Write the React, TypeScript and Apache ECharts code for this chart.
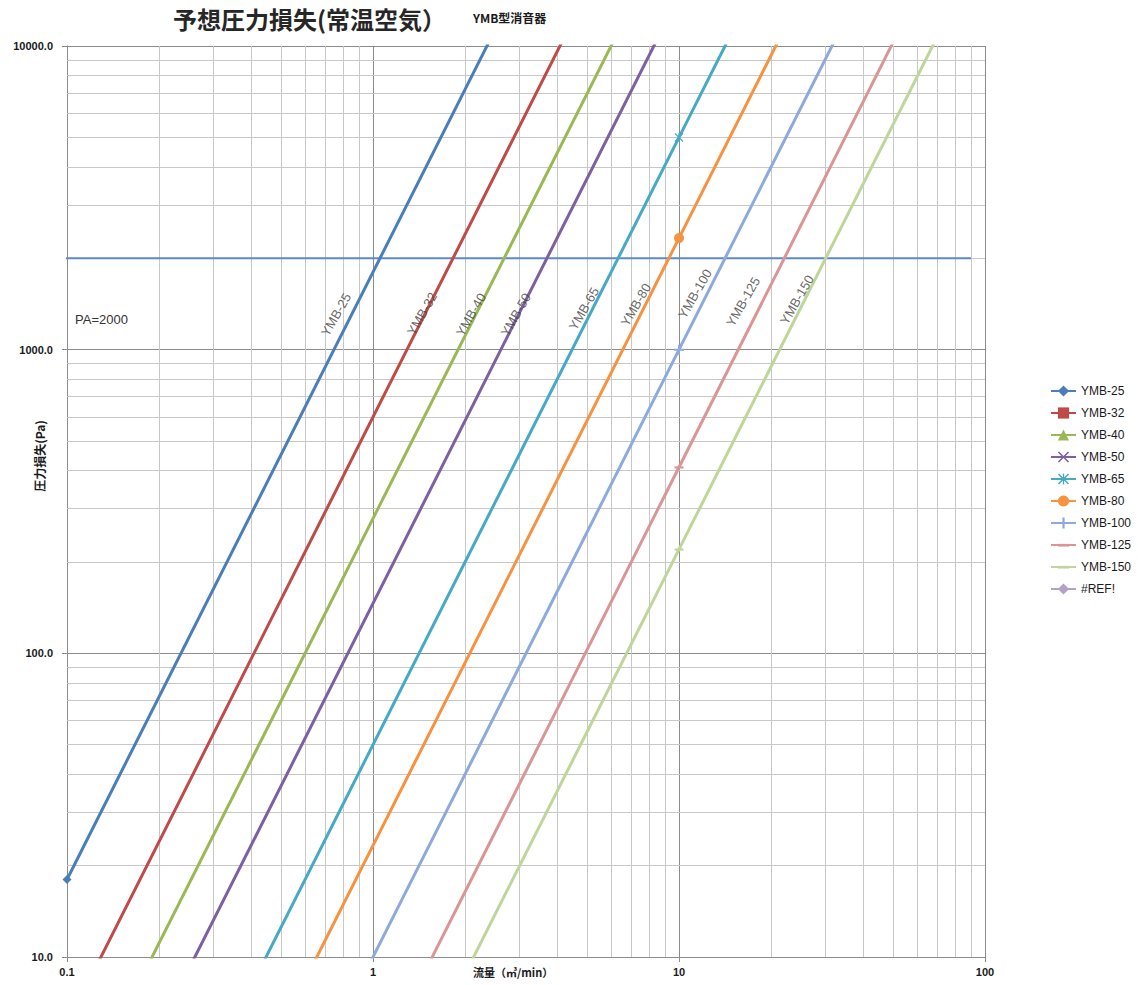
import React, { useEffect, useRef } from 'react';
import * as echarts from 'echarts';

const seriesNames = ['YMB-25', 'YMB-32', 'YMB-40', 'YMB-50', 'YMB-65', 'YMB-80', 'YMB-100', 'YMB-125', 'YMB-150', '#REF!'];
const flowPoints = [0.1, 10, 100];
const ymb25 = [18, 180000, 18000000];
const ymb32 = [6, 60000, 6000000];
const ymb40 = [2.78, 27800, 2780000];
const ymb50 = [1.46, 14600, 1460000];
const ymb65 = [0.5, 5000, 500000];
const ymb80 = [0.233, 2330, 233000];
const ymb100 = [0.1, 1000, 100000];
const ymb125 = [0.041, 410, 41000];
const ymb150 = [0.022, 220, 22000];
const refValues: number[] = [];
const seriesValues = [ymb25, ymb32, ymb40, ymb50, ymb65, ymb80, ymb100, ymb125, ymb150, refValues];

const colors = ['#4A7EBB', '#BE4B48', '#98B954', '#7D60A0', '#46AAC5', '#F69240', '#8EAADB', '#D99694', '#BFD59A', '#B3A2C7'];

const labelFlows = [0.757, 1.446, 2.09, 2.93, 4.89, 7.23, 11.28, 16.2, 24.3];
const labelPressures = [1304, 1313, 1304, 1304, 1364, 1406, 1528, 1438, 1460];

const paLevel = 2000;
const paLineFlows = [0.0893, 90];

const xMinor = [0.2, 0.3, 0.4, 0.5, 0.6, 0.7, 0.8, 0.9, 2, 3, 4, 5, 6, 7, 8, 9, 20, 30, 40, 50, 60, 70, 80, 90];
const yMinor = [20, 30, 40, 50, 60, 70, 80, 90, 200, 300, 400, 500, 600, 700, 800, 900, 2000, 3000, 4000, 5000, 6000, 7000, 8000, 9000];
const xTickLabels = ['0.1', '1', '10', '100'];
const yTickLabels = ['10.0', '100.0', '1000.0', '10000.0'];

const xPlus = 'path://M4,0H6V4H10V6H6V10H4V6H0V4H4Z';
const xCross = 'path://M1,0L5,4L9,0L10,1L6,5L10,9L9,10L5,6L1,10L0,9L4,5L0,1Z';
const xStar = 'path://M1,0L5,4L9,0L10,1L6,5L10,9L9,10L5,6L1,10L0,9L4,5L0,1Z M4.4,0H5.6V10H4.4Z';
const xDash = 'path://M0,0L0,0M10,10L10,10M0,4H10V6.4H0Z';
const symbols = ['diamond', 'rect', 'triangle', xCross, xStar, 'circle', xPlus, xDash, xDash, 'diamond'];
const symbolSizes: any[] = [9, 8, 9, 9, 9, 10, 10, 9, 9, 9];

const FONT = "'Liberation Sans', 'Noto Sans CJK JP', sans-serif";
const CJK = "'Noto Sans CJK JP', 'Liberation Sans', sans-serif";

export default function App() {
  const ref = useRef<HTMLDivElement>(null);
  useEffect(() => {
    document.body.style.margin = '0';
    if (!ref.current) return;
    const chart = echarts.init(ref.current, null, { renderer: 'svg' });
    const dataSeries = seriesNames.map((name, i) => ({
      name,
      type: 'line',
      data: seriesValues[i].map((p, j) => [flowPoints[j], p]),
      symbol: symbols[i],
      symbolSize: symbolSizes[i],
      showAllSymbol: true,
      clip: true,
      lineStyle: { width: 3, color: colors[i] },
      itemStyle: { color: colors[i] },
      z: 3,
    }));
    const option: any = {
      animation: false,
      backgroundColor: '#ffffff',
      title: {
        text: '予想圧力損失(常温空気）',
        left: 173,
        top: 6,
        padding: 0,
        textStyle: { fontSize: 24, fontWeight: 'bold', color: '#262626', fontFamily: CJK },
      },
      grid: { left: 67, right: 153, top: 46, bottom: 28, containLabel: false },
      legend: {
        data: seriesNames,
        orient: 'vertical',
        left: 1050,
        top: 385,
        padding: 0,
        itemWidth: 25,
        itemHeight: 14,
        itemGap: 10,
        textStyle: { fontSize: 12, color: '#1a1a1a', fontFamily: FONT },
      },
      xAxis: {
        type: 'log',
        logBase: 10,
        min: 0.1,
        max: 100,
        splitNumber: 3,
        axisLine: { show: true, lineStyle: { color: '#8c8c8c', width: 1 } },
        axisTick: { show: true, length: 5, lineStyle: { color: '#8c8c8c' } },
        axisLabel: {
          margin: 9,
          fontSize: 11,
          fontWeight: 'bold',
          color: '#1a1a1a',
          fontFamily: FONT,
          formatter: (_v: number, idx: number) => xTickLabels[idx] ?? '',
        },
        splitLine: { show: true, lineStyle: { color: '#8c8c8c', width: 1 } },
      },
      yAxis: {
        type: 'log',
        logBase: 10,
        min: 10,
        max: 10000,
        splitNumber: 3,
        axisLine: { show: true, lineStyle: { color: '#8c8c8c', width: 1 } },
        axisTick: { show: true, length: 5, lineStyle: { color: '#8c8c8c' } },
        axisLabel: {
          margin: 14,
          fontSize: 11,
          fontWeight: 'bold',
          color: '#1a1a1a',
          fontFamily: FONT,
          formatter: (_v: number, idx: number) => yTickLabels[idx] ?? '',
        },
        splitLine: { show: true, lineStyle: { color: '#8c8c8c', width: 1 } },
      },
      graphic: [
        {
          type: 'text',
          left: 473,
          top: 11,
          style: { text: 'YMB型消音器', fill: '#1a1a1a', font: `bold 12px ${CJK}` },
        },
        {
          type: 'text',
          left: 75,
          top: 313,
          style: { text: 'PA=2000', fill: '#333333', font: `13px ${FONT}` },
        },
        {
          type: 'text',
          left: 473,
          top: 966,
          style: { text: '流量（㎥/min）', fill: '#1a1a1a', font: `bold 11px ${CJK}` },
        },
        {
          type: 'text',
          x: 39,
          y: 456,
          rotation: Math.PI / 2,
          style: {
            text: '圧力損失(Pa)',
            fill: '#1a1a1a',
            font: `bold 12px ${CJK}`,
            textAlign: 'center',
            textVerticalAlign: 'middle',
          },
        },
      ],
      series: [
        {
          name: 'minorGrid',
          type: 'line',
          data: [],
          z: 1,
          silent: true,
          markLine: {
            silent: true,
            z: 1,
            symbol: ['none', 'none'],
            label: { show: false },
            lineStyle: { color: '#c8c8c8', width: 1, type: 'solid' },
            emphasis: { disabled: true },
            data: [
              ...xMinor.map((v) => ({ xAxis: v })),
              ...yMinor.map((v) => ({ yAxis: v })),
            ],
          },
        },
        {
          name: 'PA',
          type: 'line',
          data: paLineFlows.map((q) => [q, paLevel]),
          clip: false,
          symbol: 'none',
          silent: true,
          lineStyle: { color: '#5B8AC8', width: 2 },
          z: 2,
        },
        ...dataSeries,
        {
          name: 'lineLabels',
          type: 'scatter',
          silent: true,
          data: labelFlows.map((q, i) => ({ value: [q, labelPressures[i]], name: seriesNames[i] })),
          symbolSize: 1,
          itemStyle: { color: 'rgba(0,0,0,0)' },
          label: {
            show: true,
            position: 'inside',
            formatter: '{b}',
            rotate: 60,
            fontSize: 13,
            color: '#404040',
            fontFamily: FONT,
          },
          z: 5,
        },
      ],
    };
    chart.setOption(option);
    return () => chart.dispose();
  }, []);
  return <div ref={ref} style={{ width: 1138, height: 985 }} />;
}
